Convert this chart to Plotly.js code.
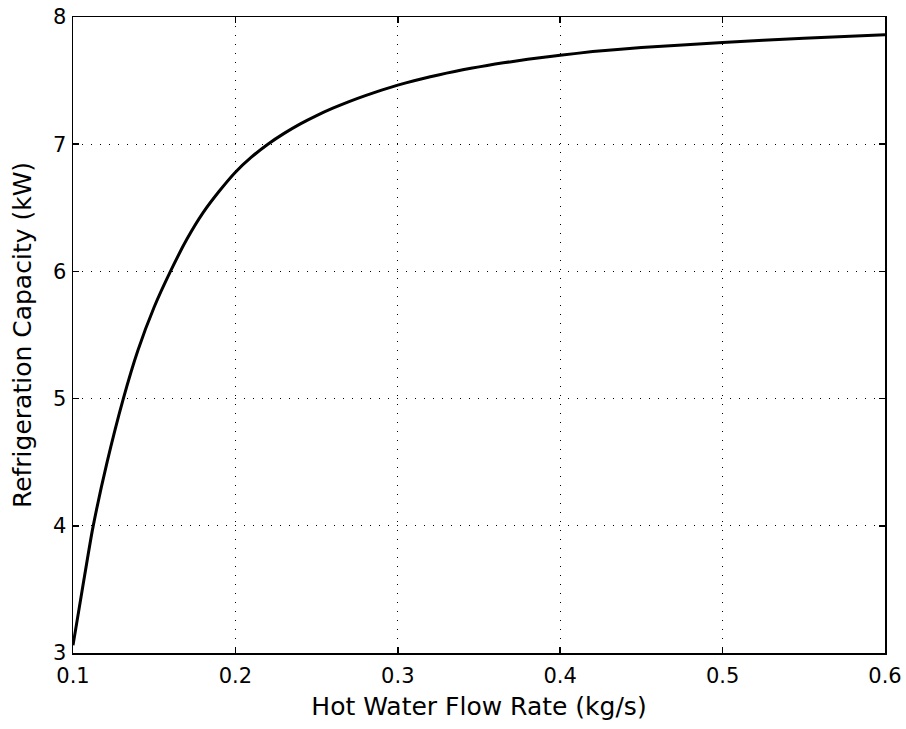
<!DOCTYPE html>
<html>
<head>
<meta charset="utf-8">
<script src="https://cdn.plot.ly/plotly-3.0.1.min.js"></script>
<style>
  html, body { margin: 0; padding: 0; background: #fff; }
  #chart { width: 906px; height: 729px; }
</style>
</head>
<body>
<div id="chart"></div>
<script>
// Hot water flow rate (kg/s)
const flowRate = [0.1, 0.106, 0.112, 0.121, 0.131, 0.14, 0.15, 0.16, 0.17, 0.18, 0.19, 0.2, 0.21, 0.22, 0.23, 0.24, 0.25, 0.26, 0.27, 0.28, 0.29, 0.3, 0.31, 0.32, 0.33, 0.34, 0.35, 0.36, 0.37, 0.38, 0.39, 0.4, 0.42, 0.45, 0.5, 0.55, 0.6];
// Refrigeration capacity (kW)
const capacity = [3.06, 3.52, 3.97, 4.50, 5.0, 5.38, 5.72, 6.0, 6.25, 6.46, 6.63, 6.78, 6.90, 7.0, 7.085, 7.16, 7.225, 7.283, 7.335, 7.382, 7.425, 7.464, 7.499, 7.530, 7.559, 7.585, 7.608, 7.630, 7.649, 7.667, 7.684, 7.699, 7.728, 7.760, 7.80, 7.832, 7.86];

const xTicks = [0.1, 0.2, 0.3, 0.4, 0.5, 0.6];
const xTickLabels = ['0.1', '0.2', '0.3', '0.4', '0.5', '0.6'];
const yTicks = [3, 4, 5, 6, 7, 8];
const yTickLabels = ['3', '4', '5', '6', '7', '8'];

const fontFamily = '"DejaVu Sans", Verdana, sans-serif';

const trace = {
  x: flowRate,
  y: capacity,
  type: 'scatter',
  mode: 'lines',
  line: { color: '#000000', width: 3, shape: 'spline', smoothing: 0.5 },
  hoverinfo: 'skip'
};

const axisCommon = {
  showline: true,
  linecolor: '#000000',
  linewidth: 1.5,
  mirror: 'ticks',
  ticks: 'inside',
  ticklen: 6,
  tickwidth: 1.5,
  tickcolor: '#000000',
  showgrid: true,
  gridcolor: '#000000',
  gridwidth: 1,
  griddash: '1px,8px',
  zeroline: false,
  tickfont: { family: fontFamily, size: 21, color: '#000000' }
};

const layout = {
  width: 906,
  height: 729,
  margin: { l: 73, r: 21, t: 17, b: 76 },
  paper_bgcolor: '#ffffff',
  plot_bgcolor: '#ffffff',
  showlegend: false,
  xaxis: Object.assign({}, axisCommon, {
    range: [0.1, 0.6],
    tickmode: 'array',
    tickvals: xTicks,
    ticktext: xTickLabels,
    ticklabelstandoff: 3,
    title: { text: 'Hot Water Flow Rate (kg/s)', font: { family: fontFamily, size: 25, color: '#000000' }, standoff: 11 }
  }),
  yaxis: Object.assign({}, axisCommon, {
    range: [3, 8],
    tickmode: 'array',
    tickvals: yTicks,
    ticktext: yTickLabels,
    ticklabelstandoff: 1,
    title: { text: 'Refrigeration Capacity (kW)', font: { family: fontFamily, size: 25, color: '#000000' }, standoff: 14 }
  })
};

Plotly.newPlot('chart', [trace], layout, { displayModeBar: false, staticPlot: true });
</script>
</body>
</html>
